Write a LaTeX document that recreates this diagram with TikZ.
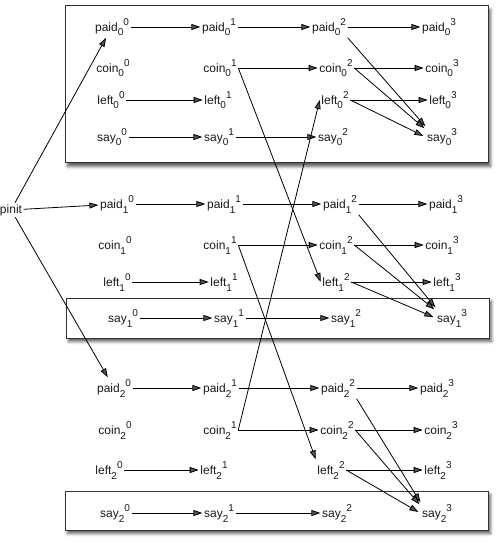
\documentclass[tikz,border=0pt]{standalone}
\usepackage{fontspec}
\setmainfont{Liberation Sans}
\usetikzlibrary{arrows.meta,shadows.blur}
\newcommand\subsupfont{\fontsize{10}{10}\selectfont}
\newcommand\vv[3]{#1\raisebox{-4.5pt}{\subsupfont #2}\raisebox{6pt}{\subsupfont #3}}
\begin{document}
\begin{tikzpicture}[x=1pt,y=-1pt,
  v/.style={inner sep=1.5pt, text height=13.5pt, text depth=4.5pt, font=\fontsize{12}{14}\selectfont, text=black!90},
  box/.style={draw=black!80, line width=1pt, fill=white, blur shadow={shadow xshift=2.5pt, shadow yshift=-3.5pt, shadow blur radius=3pt, shadow opacity=65}},
  ar/.style={-{Triangle[length=9pt,width=6pt]}, line width=0.8pt}]
\useasboundingbox (0,0) rectangle (500,545);
% boxes
\path[box] (65,6) rectangle (488,163);
\path[box] (66,298) rectangle (489,338);
\path[box] (65,491) rectangle (488,530);
% pinit
\node[inner sep=1.5pt, font=\fontsize{12}{14}\selectfont, text=black!90] (pinit) at (11,210) {pinit};
% group 0
\node[v] (p00) at (112,27) {\vv{paid}{0}{0}};
\node[v] (p01) at (219,27) {\vv{paid}{0}{1}};
\node[v] (p02) at (329,27) {\vv{paid}{0}{2}};
\node[v] (p03) at (439,27) {\vv{paid}{0}{3}};
\node[v] (c00) at (113,68) {\vv{coin}{0}{0}};
\node[v] (c01) at (220,68) {\vv{coin}{0}{1}};
\node[v] (c02) at (336,68) {\vv{coin}{0}{2}};
\node[v] (c03) at (442,68) {\vv{coin}{0}{3}};
\node[v] (l00) at (111,100) {\vv{left}{0}{0}};
\node[v] (l01) at (218,100) {\vv{left}{0}{1}};
\node[v] (l02) at (335,100) {\vv{left}{0}{2}};
\node[v] (l03) at (443,100) {\vv{left}{0}{3}};
\node[v] (s00) at (112,137) {\vv{say}{0}{0}};
\node[v] (s01) at (219,137) {\vv{say}{0}{1}};
\node[v] (s02) at (333,137) {\vv{say}{0}{2}};
\node[v] (s03) at (442,137) {\vv{say}{0}{3}};
% group 1
\node[v] (p10) at (117,204) {\vv{paid}{1}{0}};
\node[v] (p11) at (224,204) {\vv{paid}{1}{1}};
\node[v] (p12) at (340,204) {\vv{paid}{1}{2}};
\node[v] (p13) at (446,204) {\vv{paid}{1}{3}};
\node[v] (c10) at (115,245) {\vv{coin}{1}{0}};
\node[v] (c11) at (220,245) {\vv{coin}{1}{1}};
\node[v] (c12) at (336,245) {\vv{coin}{1}{2}};
\node[v] (c13) at (442,245) {\vv{coin}{1}{3}};
\node[v] (l10) at (117,282) {\vv{left}{1}{0}};
\node[v] (l11) at (224,282) {\vv{left}{1}{1}};
\node[v] (l12) at (336,282) {\vv{left}{1}{2}};
\node[v] (l13) at (447,282) {\vv{left}{1}{3}};
\node[v] (s10) at (123,318) {\vv{say}{1}{0}};
\node[v] (s11) at (229,318) {\vv{say}{1}{1}};
\node[v] (s12) at (346,318) {\vv{say}{1}{2}};
\node[v] (s13) at (452,318) {\vv{say}{1}{3}};
% group 2
\node[v] (p20) at (114,388) {\vv{paid}{2}{0}};
\node[v] (p21) at (220,388) {\vv{paid}{2}{1}};
\node[v] (p22) at (338,388) {\vv{paid}{2}{2}};
\node[v] (p23) at (437,388) {\vv{paid}{2}{3}};
\node[v] (c20) at (115,430) {\vv{coin}{2}{0}};
\node[v] (c21) at (220,430) {\vv{coin}{2}{1}};
\node[v] (c22) at (337,430) {\vv{coin}{2}{2}};
\node[v] (c23) at (441,430) {\vv{coin}{2}{3}};
\node[v] (l20) at (109,470) {\vv{left}{2}{0}};
\node[v] (l21) at (214,470) {\vv{left}{2}{1}};
\node[v] (l22) at (331,470) {\vv{left}{2}{2}};
\node[v] (l23) at (438,470) {\vv{left}{2}{3}};
\node[v] (s20) at (115,513) {\vv{say}{2}{0}};
\node[v] (s21) at (219,513) {\vv{say}{2}{1}};
\node[v] (s22) at (337,513) {\vv{say}{2}{2}};
\node[v] (s23) at (437,513) {\vv{say}{2}{3}};
% edges within groups
\foreach \g in {0,1,2}{
  \draw[ar] (p\g0) -- (p\g1);
  \draw[ar] (p\g1) -- (p\g2);
  \draw[ar] (p\g2) -- (p\g3);
  \draw[ar] (c\g1.east) -- (c\g2);
  \draw[ar] (l\g0) -- (l\g1);
  \draw[ar] (l\g2) -- (l\g3);
  \draw[ar] (s\g0) -- (s\g1);
  \draw[ar] (s\g1) -- (s\g2);
  \draw[ar] (c\g2) -- (c\g3);
  \draw[ar] (p\g2.south east) -- (s\g3.north west);
  \draw[ar] (c\g2.east) -- ([xshift=-1pt,yshift=-2pt]s\g3.north west);
  \draw[ar] (l\g2.east) -- ([xshift=-2pt,yshift=1pt]s\g3.west);
}
% cross edges
\draw[ar] (c01.east) -- (l12.west);
\draw[ar] (c11.east) -- (l22.north west);
\draw[ar] (c21.east) -- (l02.west);
% pinit
\draw[ar] (pinit) -- (p00);
\draw[ar] (pinit) -- (p10);
\draw[ar] (pinit) -- (p20);
\end{tikzpicture}
\end{document}
